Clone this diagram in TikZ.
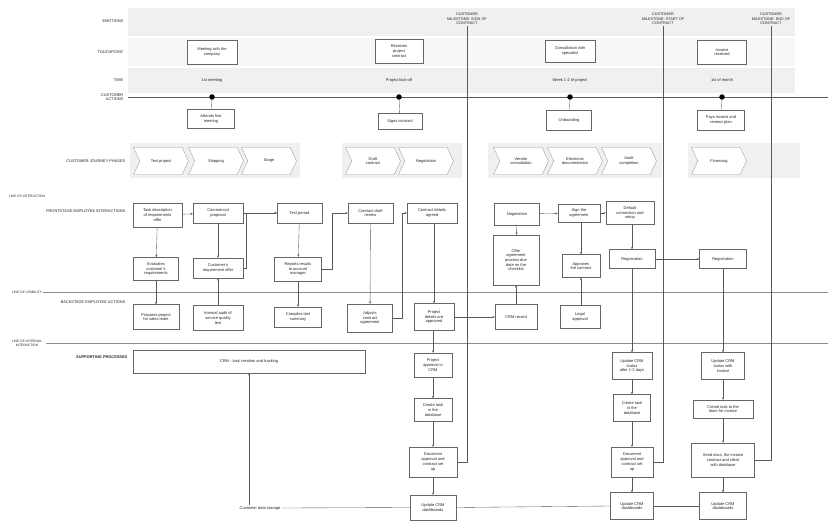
\documentclass[tikz,border=0pt]{standalone}
\usepackage{fontspec}
\setmainfont{Liberation Sans}
\usetikzlibrary{shapes.symbols,arrows.meta}
\tikzset{
 box/.style={draw=black!60, line width=0.35pt, fill=white, align=center, inner sep=0.5pt, font=\fontsize{4}{4.7}\selectfont, text=black!85},
 arr/.style={draw=black!65, line width=0.35pt, -{Stealth[length=2.4pt,width=2pt]}},
 ln/.style={draw=black!65, line width=0.35pt},
 rowlab/.style={anchor=east, font=\fontsize{3.9}{4.6}\selectfont, text=black!85, align=right, inner sep=0.5pt},
 linelab/.style={font=\fontsize{3.3}{3.9}\selectfont, text=black!85, align=center, inner sep=1pt},
 milelab/.style={font=\fontsize{3.8}{4.4}\selectfont, text=black!85, align=center, inner sep=1pt},
 plain/.style={font=\fontsize{4}{4.7}\selectfont, text=black!85, align=center, inner sep=0.5pt},
 chev/.style={signal, signal from=west, signal to=east, draw=black!40, fill=white, line width=0.35pt, minimum height=27pt, minimum width=55pt, font=\fontsize{4}{4.7}\selectfont, text=black!85, align=center, inner sep=0pt, signal pointer angle=130},
 dot/.style={circle, fill=black, inner sep=0pt, minimum size=5.5pt},
}
\begin{document}
\begin{tikzpicture}[x=1pt,y=-1pt]
\useasboundingbox (0,0) rectangle (828,522);
\fill[white] (0,0) rectangle (828,522);
% bands
\fill[black!6] (128,8) rectangle (795,36);
\fill[black!3] (128,38) rectangle (795,66);
\fill[black!6] (128,68) rectangle (795,93);
\fill[black!6] (130,143) rectangle (300,178);
\fill[black!6] (342,143) rectangle (462,178);
\fill[black!6] (488,143) rectangle (662,178);
\fill[black!6] (688,143) rectangle (800,178);

% row labels
\node[rowlab] (R1) at (124,21) {EMOTIONS};
\node[rowlab] (R2) at (124,52) {TOUCHPOINT};
\node[rowlab] (R3) at (124,80) {TIME};
\node[rowlab] (R4) at (124,97) {CUSTOMER\\ACTIONS};
\node[rowlab] (R5) at (126,161) {CUSTOMER JOURNEY PHASES};
\node[rowlab] (R6) at (126,211) {FRONTSTAGE EMPLOYEE INTERACTIONS};
\node[rowlab] (R7) at (126,302) {BACKSTAGE EMPLOYEE ACTIONS};
\node[rowlab, font=\bfseries\fontsize{3.9}{4.6}\selectfont] (R8) at (128,357) {SUPPORTING PROCESSES};

% line labels
\node[linelab] (L1) at (27,196) {LINE OF INTERACTION};
\node[linelab] (L2) at (27,292) {LINE OF VISIBILITY};
\node[linelab] (L3) at (27,343) {LINE OF INTERNAL\\INTERACTION};
\coordinate (act0) at (128,97);
\coordinate (act1) at (828,97);
\coordinate (vis1) at (828,292);
\coordinate (int0) at (46,343);
\coordinate (int1) at (828,343);
\draw[ln] (act0) -- (act1);
\draw[ln, black!45] (L2.east) -- (vis1);
\draw[ln, black!45] (int0) -- (int1);

% milestones
\node[milelab] (M1) at (467,19) {CUSTOMER\\MILESTONE: SIGN OF\\CONTRACT};
\node[milelab] (M2) at (663,19) {CUSTOMER\\MILESTONE: START OF\\CONTRACT};
\node[milelab] (M3) at (771,19) {CUSTOMER\\MILESTONE: END OF\\CONTRACT};

% touchpoints
\node[box, minimum width=50pt, minimum height=24pt] (T1) at (212,52) {Meeting with the\\company};
\node[box, minimum width=48pt, minimum height=24pt] (T2) at (399,51) {Receives\\project\\contract};
\node[box, minimum width=50pt, minimum height=22pt] (T3) at (570,51) {Consultation with\\specialist};
\node[box, minimum width=49pt, minimum height=24pt] (T4) at (722,52) {Invoice\\received};

% time
\node[plain] (tm1) at (212,80) {1st meeting};
\node[plain] (tm2) at (399,80) {Project kick-off};
\node[plain] (tm3) at (570,80) {Week 1-2 of project};
\node[plain] (tm4) at (722,80) {1st of month};

% dots and customer actions
\node[dot] (d1) at (212,97) {};
\node[dot] (d2) at (399,97) {};
\node[dot] (d3) at (570,97) {};
\node[dot] (d4) at (722,97) {};
\node[box, minimum width=47pt, minimum height=19pt] (CA1) at (211,119) {Attends first\\meeting};
\node[box, minimum width=44pt, minimum height=16pt] (CA2) at (400,121) {Signs contract};
\node[box, minimum width=45pt, minimum height=20pt] (CA3) at (569,120) {Onboarding};
\node[box, minimum width=47pt, minimum height=20pt] (CA4) at (721,120) {Pays invoice and\\renews plan};
\draw[ln] (d1) -- (CA1);
\draw[ln] (d2) -- (CA2);
\draw[ln] (d3) -- (CA3);
\draw[ln] (d4) -- (CA4);

% journey chevrons
\node[chev] (ch1) at (161,161) {Test project};
\node[chev] (ch2) at (216,161) {Shipping};
\node[chev] (ch3) at (269,161) {Stage};
\node[chev] (ch4) at (373,161) {Draft\\contract};
\node[chev] (ch5) at (426,161) {Negotiation};
\node[chev] (ch6) at (521,161) {Vendor\\consultation};
\node[chev] (ch7) at (575,161) {Electronic\\documentation};
\node[chev] (ch8) at (629,161) {Audit\\completion};
\node[chev] (ch9) at (719,161) {Financing};

% frontstage
\node[box, minimum width=49pt, minimum height=24pt] (A1) at (157.5,215) {Task description\\of requirements\\offer};
\node[box, minimum width=50pt, minimum height=20pt] (A2) at (218,213) {Commercial\\proposal};
\node[box, minimum width=45pt, minimum height=20pt] (A3) at (299.5,213) {Test period};
\node[box, minimum width=45pt, minimum height=20pt] (A4) at (370.5,213) {Contract draft\\review};
\node[box, minimum width=50pt, minimum height=20pt] (A5) at (432,213) {Contract details\\agreed};
\node[box, minimum width=45pt, minimum height=22pt] (A6) at (517,214) {Negotiation};
\node[box, minimum width=42pt, minimum height=18pt] (A7) at (579,213) {Sign the\\agreement};
\node[box, minimum width=48pt, minimum height=23pt] (A8) at (630,213) {Default\\connection and\\setup};

\node[box, minimum width=45pt, minimum height=23pt] (B1) at (156,269) {Evaluates\\customer's\\requirements};
\node[box, minimum width=50pt, minimum height=20pt] (B2) at (218,268) {Customer's\\requirement offer};
\node[box, minimum width=47pt, minimum height=24pt] (B3) at (298,269) {Reports results\\to account\\manager};
\node[box, minimum width=46pt, minimum height=50pt] (B4) at (516,260) {Offer\\agreement\\process due\\date on the\\checklist};
\node[box, minimum width=38pt, minimum height=23pt] (B5) at (581,266) {Approves\\the contract};
\node[box, minimum width=46pt, minimum height=19pt] (B6) at (632,259) {Registration};
\node[box, minimum width=47pt, minimum height=19pt] (B7) at (723,259) {Registration};

% backstage
\node[box, minimum width=46pt, minimum height=25pt] (C1) at (156,317) {Prepares project\\for sales team};
\node[box, minimum width=50pt, minimum height=25pt] (C2) at (218,318) {Internal audit of\\service quality\\test};
\node[box, minimum width=47pt, minimum height=20pt] (C3) at (298,317) {Compiles test\\summary};
\node[box, minimum width=45pt, minimum height=28pt] (C4) at (370,318) {Adjusts\\contract\\agreement};
\node[box, minimum width=40pt, minimum height=27pt] (C5) at (434,317) {Project\\details are\\approved};
\node[box, minimum width=42pt, minimum height=25pt] (C6) at (516,317) {CRM record};
\node[box, minimum width=40pt, minimum height=23pt] (C7) at (580,317) {Legal\\approval};

% support
\node[box, minimum width=232pt, minimum height=23pt] (D1) at (249,361.5) {CRM - task creation and tracking};
\node[box, minimum width=38pt, minimum height=24pt] (E1) at (433,365) {Project\\approval in\\CRM};
\node[box, minimum width=38pt, minimum height=23pt] (E2) at (433,410) {Create task\\in the\\database};
\node[box, minimum width=48pt, minimum height=30pt] (E3) at (433,462) {Document\\approval and\\contract set\\up};
\node[box, minimum width=46pt, minimum height=25pt] (E4) at (433,507.5) {Update CRM\\dashboards};
\node[box, minimum width=40pt, minimum height=27pt] (F1) at (632,366) {Update CRM\\status\\after 1-2 days};
\node[box, minimum width=37pt, minimum height=27pt] (F2) at (632,408) {Create task\\in the\\database};
\node[box, minimum width=42pt, minimum height=30pt] (F3) at (632,462) {Document\\approval and\\contract set\\up};
\node[box, minimum width=43pt, minimum height=27pt] (F4) at (632,506) {Update CRM\\dashboards};
\node[box, minimum width=43pt, minimum height=27pt] (G1) at (723,366) {Update CRM\\status with\\invoice};
\node[box, minimum width=60pt, minimum height=18pt] (G2) at (723,409) {Create task to the\\team for invoice};
\node[box, minimum width=63pt, minimum height=34pt] (G3) at (723,460) {Send docs, the invoice\\contract and client\\with database};
\node[box, minimum width=47pt, minimum height=27pt] (G4) at (723,506) {Update CRM\\dashboards};
\node[plain] (st) at (260,508) {Customer data storage};

% connectors frontstage/backstage
\draw[arr] (A1) -- (A2);
\draw[arr] (A1) -- (B1);
\draw[arr] (B1) -- (C1);
\draw[arr] (A2) -- (B2);
\draw[arr] (C2) -- (B2);
\draw[arr] (A2) -- (A3);
\draw[arr] (B2.east) -- ++(3,0) |- (A3.west);
\draw[arr] (A3) -- (B3);
\draw[arr] (B3) -- (C3);
\draw[arr] (B3.east) -- ++(10,0) |- (A4.west);
\draw[arr] (A4) -- (C4);
\draw[arr] (C4.east) -- ++(9,0) |- (A5.west);
\draw[arr] (A5.south -| C5.north) -- (C5.north);
\draw[arr] (C5) -- (C6);
\draw[arr] (C6) -- (B4);
\draw[arr] (A6) -- (B4);
\draw[arr] (A6) -- (A7);
\draw[arr] (A7) -- (A8);
\draw[arr] (A7.south -| B5.north) -- (B5.north);
\draw[arr] (C7.north -| B5.south) -- (B5.south);
\draw[arr] (A8.south -| B6.north) -- (B6.north);
\draw[arr] (B6) -- (B7);
\draw[arr] (B6) -- (F1);
\draw[arr] (B7) -- (G1);
\draw[arr] (C5.south -| E1.north) -- (E1.north);
\draw[arr] (E1) -- (E2);
\draw[arr] (E2) -- (E3);
\draw[arr] (E3) -- (E4);
\draw[arr] (F1) -- (F2);
\draw[arr] (F2) -- (F3);
\draw[arr] (F3) -- (F4);
\draw[arr] (G1) -- (G2);
\draw[arr] (G2) -- (G3);
\draw[arr] (G3) -- (G4);

% milestone lines
\draw[ln] (M1.south) |- (E3.east);
\draw[ln] (M2.south) |- (F3.east);
\draw[ln] (M3.south) |- (G3.east);

% storage
\draw[arr] (D1.south |- st.north) -- (D1.south);
\draw[ln] (st.east) -- (E4.west);
\draw[ln] (E4.east) -- (F4.west);
\draw[ln] (F4.east) -- (G4.west);
\end{tikzpicture}
\end{document}
